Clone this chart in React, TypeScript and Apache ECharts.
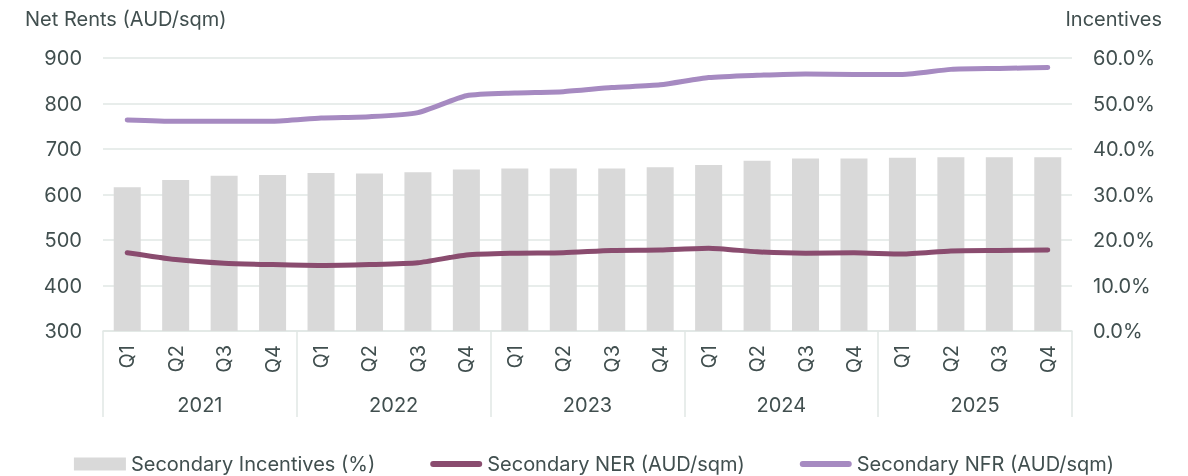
import React, { useEffect, useRef } from "react";
import * as echarts from "echarts";

const quarters = [
  "Q1","Q2","Q3","Q4","Q1","Q2","Q3","Q4","Q1","Q2","Q3","Q4",
  "Q1","Q2","Q3","Q4","Q1","Q2","Q3","Q4",
];
const years = ["2021", "2022", "2023", "2024", "2025"];
const incentives = [
  31.6, 33.2, 34.1, 34.3, 34.7, 34.6, 34.9, 35.5, 35.7, 35.7,
  35.7, 36.0, 36.5, 37.4, 37.9, 37.9, 38.1, 38.2, 38.2, 38.2,
];
const ner = [
  472, 457, 449, 446, 444, 446, 450, 467, 471, 472,
  477, 478, 482, 474, 471, 472, 469, 476, 477, 478,
];
const nfr = [
  764, 761, 761, 761, 768, 771, 780, 817, 823, 826,
  835, 841, 857, 862, 865, 864, 864, 875, 877, 879,
];
const leftTicks = { min: 300, max: 900, interval: 100 };
const rightTicks = { min: 0, max: 60, interval: 10 };

const TXT = "#414f4f";
const GRID = "#e1e7e5";
const FONT = "Inter";
const FS = 20;
const LINE_ICON = "path://M3,0 L49,0 A3,3 0 0 1 49,6 L3,6 A3,3 0 0 1 3,0 Z";

export default function App() {
  const ref = useRef<HTMLDivElement>(null);
  useEffect(() => {
    if (!ref.current) return;
    const chart = echarts.init(ref.current, undefined, { renderer: "svg" });
    chart.setOption({
      animation: false,
      textStyle: { fontFamily: FONT, color: TXT },
      grid: { left: 103, right: 116, top: 58, bottom: 145 },
      graphic: [
        {
          type: "text",
          left: 25,
          top: 9,
          style: { text: "Net Rents (AUD/sqm)", fontSize: FS, fill: TXT, fontFamily: FONT },
        },
        {
          type: "text",
          right: 26,
          top: 9,
          style: { text: "Incentives", fontSize: FS, fill: TXT, fontFamily: FONT },
        },
      ],
      legend: {
        bottom: -3,
        left: "center",
        itemGap: 55,
        itemWidth: 52,
        itemHeight: 13,
        textStyle: { fontSize: FS, color: TXT, fontFamily: FONT },
        data: [
          { name: "Secondary Incentives (%)", icon: "rect" },
          { name: "Secondary NER (AUD/sqm)", icon: LINE_ICON, itemStyle: { color: "#8a4c6f" } },
          { name: "Secondary NFR (AUD/sqm)", icon: LINE_ICON, itemStyle: { color: "#a68ac1" } },
        ],
      },
      xAxis: [
        {
          type: "category",
          data: quarters,
          position: "bottom",
          axisLine: { show: true, lineStyle: { color: GRID, width: 1.5 } },
          axisTick: { show: false },
          axisLabel: { rotate: 90, margin: 14, fontSize: FS, color: TXT, interval: 0 },
        },
        {
          type: "category",
          data: years,
          position: "bottom",
          axisLine: { show: false },
          axisTick: { show: true, length: 86, interval: 0, lineStyle: { color: GRID, width: 1.5 } },
          axisLabel: { margin: 64, fontSize: FS, color: TXT, interval: 0 },
        },
      ],
      yAxis: [
        {
          type: "value",
          ...leftTicks,
          axisLine: { show: false },
          axisTick: { show: false },
          axisLabel: { fontSize: FS, color: TXT, margin: 21 },
          splitLine: { lineStyle: { color: GRID, width: 1.5 } },
        },
        {
          type: "value",
          ...rightTicks,
          position: "right",
          axisLine: { show: false },
          axisTick: { show: false },
          axisLabel: {
            fontSize: FS,
            color: TXT,
            margin: 21,
            formatter: (v: number) => v.toFixed(1) + "%",
          },
          splitLine: { show: false },
        },
      ],
      series: [
        {
          name: "Secondary Incentives (%)",
          type: "bar",
          xAxisIndex: 0,
          yAxisIndex: 1,
          data: incentives,
          barWidth: 27,
          itemStyle: { color: "#d9d9d9" },
        },
        {
          name: "Secondary NER (AUD/sqm)",
          type: "line",
          xAxisIndex: 0,
          yAxisIndex: 0,
          data: ner,
          symbol: "none",
          smooth: 0.2,
          lineStyle: { color: "#8a4c6f", width: 5, cap: "round", join: "round" },
          itemStyle: { color: "#8a4c6f" },
        },
        {
          name: "Secondary NFR (AUD/sqm)",
          type: "line",
          xAxisIndex: 0,
          yAxisIndex: 0,
          data: nfr,
          symbol: "none",
          smooth: 0.2,
          lineStyle: { color: "#a68ac1", width: 5, cap: "round", join: "round" },
          itemStyle: { color: "#a68ac1" },
        },
      ],
    });
    return () => chart.dispose();
  }, []);
  return (
    <div
      ref={ref}
      style={{ position: "fixed", left: 0, top: 0, width: 1188, height: 476 }}
    />
  );
}
